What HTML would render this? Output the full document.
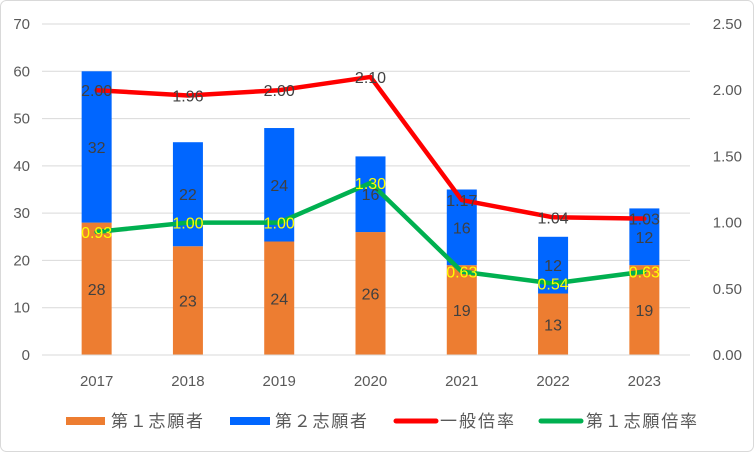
<!DOCTYPE html>
<html><head><meta charset="utf-8"><style>
body{margin:0;background:#fff;}
svg text{font-family:"Liberation Sans","Noto Sans CJK JP",sans-serif;}
</style></head><body>
<svg width="754" height="452">
<rect x="0.5" y="0.5" width="753" height="451" rx="6" fill="#fff" stroke="#d9d9d9"/>
<g id="grid"></g><g id="bars"></g><g id="lines"></g><g id="labels"></g><g id="axes"></g>
<g font-size="17" fill="#595959">
<rect x="66" y="417" width="39" height="8" fill="#ED7D31"/>
<text x="111" y="427" textLength="92">第１志願者</text>
<rect x="230" y="417" width="40" height="8" fill="#0066FF"/>
<text x="275" y="427" textLength="92">第２志願者</text>
<line x1="396" y1="421" x2="436" y2="421" stroke="#FF0000" stroke-width="5" stroke-linecap="round"/>
<text x="440" y="427" textLength="74">一般倍率</text>
<line x1="541" y1="421" x2="581" y2="421" stroke="#00B050" stroke-width="5" stroke-linecap="round"/>
<text x="586" y="427" textLength="111">第１志願倍率</text>
</g>
</svg>
<script>
const categories=["2017","2018","2019","2020","2021","2022","2023"];
const firstApplicants=[28,23,24,26,19,13,19];
const secondApplicants=[32,22,24,16,16,12,12];
const generalRatio=[2.00,1.96,2.00,2.10,1.17,1.04,1.03];
const firstRatio=[0.93,1.00,1.00,1.30,0.63,0.54,0.63];
const leftTicks=[0,10,20,30,40,50,60,70];
const rightTicks=["0.00","0.50","1.00","1.50","2.00","2.50"];

const NS="http://www.w3.org/2000/svg";
const X0=51,X1=690,Y0=355,Y1=24;
const xC=i=>X0+(X1-X0)/categories.length*(i+0.5);
const yL=v=>Y0-(Y0-Y1)*v/70;
const yR=v=>Y0-(Y0-Y1)*v/2.5;
function mk(p,t,a){const e=document.createElementNS(NS,t);for(const k in a)e.setAttribute(k,a[k]);document.getElementById(p).appendChild(e);return e;}
leftTicks.forEach(t=>{
 const l=mk('grid','line',{x1:42,x2:690,y1:yL(t),y2:yL(t),stroke:'#d9d9d9'});
 
 
 const tx=mk('axes','text',{x:30,y:yL(t)+5,'text-anchor':'end','font-size':15,fill:'#595959'});tx.textContent=t;
 
 
});
rightTicks.forEach(t=>{
 const tx=mk('axes','text',{x:742,y:yR(+t)+5,'text-anchor':'end','font-size':15,fill:'#595959'});tx.textContent=t;
 
 
});
categories.forEach((c,i)=>{
 const tx=mk('axes','text',{x:xC(i),y:386,'text-anchor':'middle','font-size':15,fill:'#595959'});tx.textContent=c;
 
 
 const w=30,a=firstApplicants[i],b=secondApplicants[i];
 const r1=mk('bars','rect',{x:xC(i)-w/2,y:yL(a),width:w,height:Y0-yL(a),fill:'#ED7D31'});
 
 
 const r2=mk('bars','rect',{x:xC(i)-w/2,y:yL(a+b),width:w,height:yL(a)-yL(a+b),fill:'#0066FF'});
 
 
 const t1=mk('labels','text',{x:xC(i),y:yL(a/2)+6,'text-anchor':'middle','font-size':16,fill:'#404040'});t1.textContent=a;
 
 
 const t2=mk('labels','text',{x:xC(i),y:yL(a+b/2)+6,'text-anchor':'middle','font-size':16,fill:'#404040'});t2.textContent=b;
 
 
});
mk('axes','line',{x1:42,x2:690,y1:Y0,y2:Y0,stroke:'#d9d9d9'});
function series(vals,color,lblColor,name){
 const p=mk('lines','polyline',{points:vals.map((v,i)=>xC(i)+','+yR(v)).join(' '),fill:'none',stroke:color,'stroke-width':4.5,'stroke-linejoin':'round','stroke-linecap':'round'});
 
 
 vals.forEach((v,i)=>{
  const t=mk('labels','text',{x:xC(i),y:yR(v)+6,'text-anchor':'middle','font-size':16,fill:lblColor});t.textContent=v.toFixed(2);
  
  
 });
}
series(generalRatio,'#FF0000','#404040','general-ratio');
series(firstRatio,'#00B050','#FFFF00','first-ratio');
</script>
</body></html>
